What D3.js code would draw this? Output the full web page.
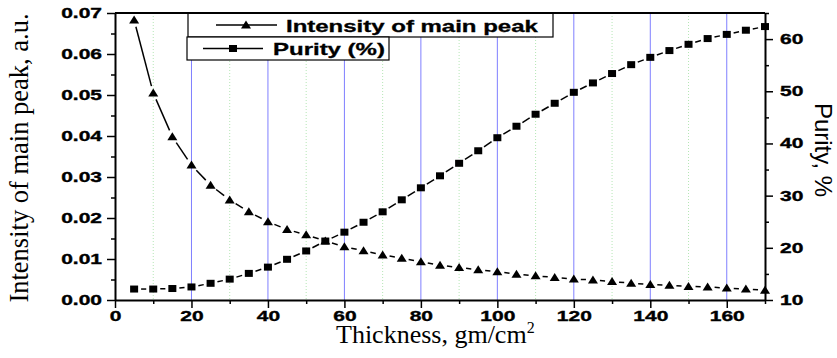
<!DOCTYPE html>
<html>
<head>
<meta charset="utf-8">
<script src="https://cdn.jsdelivr.net/npm/d3@7"></script>
<style>
  body { margin: 0; background: #fff; }
  .tick text { font-family: "Liberation Sans", Arial, sans-serif; font-weight: bold; font-size: 14px; fill: #000; stroke: #000; stroke-width: 0.35px; }
  .bold { font-family: "Liberation Sans", Arial, sans-serif; font-weight: bold; font-size: 16px; stroke: #000; stroke-width: 0.3px; }
</style>
</head>
<body>
<div id="chart"></div>
<script>
// data
const thickness = [5, 10, 15, 20, 25, 30, 35, 40, 45, 50, 55, 60, 65, 70, 75, 80, 85,
  90, 95, 100, 105, 110, 115, 120, 125, 130, 135, 140, 145, 150, 155, 160, 165, 170];
const intensity = [0.0683, 0.0505, 0.0398, 0.0329, 0.0280, 0.0244, 0.0215, 0.0191, 0.0172,
  0.0159, 0.0144, 0.0130, 0.0120, 0.0110, 0.0102, 0.0093, 0.0085, 0.0079, 0.0074, 0.0069,
  0.0063, 0.0059, 0.0055, 0.0051, 0.0049, 0.0045, 0.0041, 0.0038, 0.0036, 0.0033, 0.0032,
  0.0029, 0.0027, 0.0024];
const purity = [12.1, 12.1, 12.2, 12.5, 13.2, 14.0, 15.1, 16.3, 17.8, 19.4, 21.3, 23.0,
  24.9, 26.9, 29.2, 31.5, 33.8, 36.2, 38.6, 41.1, 43.3, 45.6, 47.7, 49.8, 51.6, 53.4,
  55.1, 56.5, 57.8, 59.0, 60.1, 60.9, 61.7, 62.4];

const xTicks = [0, 20, 40, 60, 80, 100, 120, 140, 160];
const xMinor = [10, 30, 50, 70, 90, 110, 130, 150, 170];
const yLeftTicks = [0, 0.01, 0.02, 0.03, 0.04, 0.05, 0.06, 0.07];
const yLeftMinor = [0.005, 0.015, 0.025, 0.035, 0.045, 0.055, 0.065];
const yRightTicks = [10, 20, 30, 40, 50, 60];
const yRightMinor = [15, 25, 35, 45, 55, 65];

const margin = {top: 13, right: 72, bottom: 58, left: 115};
const width = 837 - margin.left - margin.right;
const height = 358 - margin.top - margin.bottom;
const stretch = 1.5; // bold text in the picture is drawn wide

const svg = d3.select("#chart")
  .append("svg")
  .attr("width", 837)
  .attr("height", 358)
  .append("g")
  .attr("transform", `translate(${margin.left},${margin.top})`);

const x = d3.scaleLinear().domain([0, 170]).range([0, width]);
const yL = d3.scaleLinear().domain([0, 0.07]).range([height, 0]);
const yR = d3.scaleLinear().domain([10, 65]).range([height, 0]);

// grid
svg.selectAll(".gmin").data(xMinor.slice(0, -1)).enter().append("line")
  .attr("x1", d => x(d)).attr("x2", d => x(d))
  .attr("y1", 0).attr("y2", height)
  .attr("stroke", "#b5e6b5").attr("stroke-width", 1).attr("stroke-dasharray", "1,2");
svg.selectAll(".gmaj").data(xTicks.slice(1)).enter().append("line")
  .attr("x1", d => x(d)).attr("x2", d => x(d))
  .attr("y1", 0).attr("y2", height)
  .attr("stroke", "#7f7fff").attr("stroke-width", 1);

// lines with a small gap next to each symbol
function gapLines(vals, yScale, gap) {
  const pts = thickness.map((t, i) => [x(t), yScale(vals[i])]);
  const segs = [];
  for (let i = 0; i < pts.length - 1; i++) {
    const [x0, y0] = pts[i], [x1, y1] = pts[i + 1];
    const len = Math.hypot(x1 - x0, y1 - y0);
    if (len <= 2 * gap) continue;
    const ux = (x1 - x0) / len, uy = (y1 - y0) / len;
    segs.push([x0 + ux * gap, y0 + uy * gap, x1 - ux * gap, y1 - uy * gap]);
  }
  svg.append("g").selectAll("line").data(segs).enter().append("line")
    .attr("x1", d => d[0]).attr("y1", d => d[1])
    .attr("x2", d => d[2]).attr("y2", d => d[3])
    .attr("stroke", "#000").attr("stroke-width", 1.5);
}
gapLines(intensity, yL, 7);
gapLines(purity, yR, 7);

const triPath = "M0,-4.5L5,3.5L-5,3.5Z";

svg.append("g").selectAll("path").data(intensity).enter().append("path")
  .attr("d", triPath)
  .attr("transform", (d, i) => `translate(${x(thickness[i])},${yL(d)})`)
  .attr("fill", "#000");

svg.append("g").selectAll("rect").data(purity).enter().append("rect")
  .attr("x", (d, i) => x(thickness[i]) - 4)
  .attr("y", d => yR(d) - 3.5)
  .attr("width", 8).attr("height", 7)
  .attr("fill", "#000");

// legend
const lg = svg.append("g").attr("transform", `translate(${-margin.left},${-margin.top})`);
lg.append("rect").attr("x", 188).attr("y", 13).attr("width", 365).attr("height", 24)
  .attr("fill", "#fff").attr("stroke", "#000").attr("stroke-width", 1.2);
lg.append("rect").attr("x", 187).attr("y", 37).attr("width", 202).attr("height", 23)
  .attr("fill", "#fff").attr("stroke", "#000").attr("stroke-width", 1.2);
lg.append("line").attr("x1", 216).attr("x2", 277).attr("y1", 25).attr("y2", 25)
  .attr("stroke", "#000").attr("stroke-width", 1.5);
lg.append("path").attr("d", triPath).attr("transform", "translate(246,25)").attr("fill", "#000");
lg.append("line").attr("x1", 203).attr("x2", 263).attr("y1", 48.5).attr("y2", 48.5)
  .attr("stroke", "#000").attr("stroke-width", 1.5);
lg.append("rect").attr("x", 229).attr("y", 45).attr("width", 8).attr("height", 7).attr("fill", "#000");
lg.append("text").attr("class", "bold")
  .attr("transform", `translate(286,31.5) scale(${stretch},1)`)
  .text("Intensity of main peak");
lg.append("text").attr("class", "bold")
  .attr("transform", `translate(273,55) scale(${stretch},1)`)
  .text("Purity (%)");

// axes
svg.append("line").attr("x1", 0).attr("x2", width).attr("y1", 0).attr("y2", 0)
  .attr("stroke", "#000").attr("stroke-width", 2);

function styleAxis(g) {
  g.select(".domain").attr("stroke-width", 2);
  g.selectAll(".tick line").attr("stroke-width", 1.5);
}

const left = svg.append("g")
  .call(d3.axisLeft(yL).tickValues(yLeftTicks).tickFormat(d3.format(".2f"))
    .tickSize(8).tickSizeOuter(0));
styleAxis(left);
left.selectAll(".tick text").attr("x", -13 / stretch).attr("transform", `scale(${stretch},1)`);
svg.append("g").call(d3.axisLeft(yL).tickValues(yLeftMinor).tickFormat("").tickSize(4).tickSizeOuter(0))
  .call(g => { g.select(".domain").remove(); g.selectAll("line").attr("stroke-width", 1.5); });

const bottom = svg.append("g").attr("transform", `translate(0,${height})`)
  .call(d3.axisBottom(x).tickValues(xTicks).tickSize(8).tickPadding(3).tickSizeOuter(0));
styleAxis(bottom);
bottom.selectAll(".tick text").attr("transform", `scale(${stretch},1)`);
svg.append("g").attr("transform", `translate(0,${height})`)
  .call(d3.axisBottom(x).tickValues(xMinor).tickFormat("").tickSize(4).tickSizeOuter(0))
  .call(g => { g.select(".domain").remove(); g.selectAll("line").attr("stroke-width", 1.5); });

const right = svg.append("g").attr("transform", `translate(${width},0)`)
  .call(d3.axisRight(yR).tickValues(yRightTicks).tickSize(8).tickSizeOuter(0));
styleAxis(right);
right.selectAll(".tick text").attr("x", 15 / stretch).attr("transform", `scale(${stretch},1)`);
svg.append("g").attr("transform", `translate(${width},0)`)
  .call(d3.axisRight(yR).tickValues(yRightMinor).tickFormat("").tickSize(4).tickSizeOuter(0))
  .call(g => { g.select(".domain").remove(); g.selectAll("line").attr("stroke-width", 1.5); });

// axis titles
const root = d3.select("svg");
const xt = root.append("text")
  .attr("x", 336).attr("y", 343)
  .style("font-family", "'Liberation Serif', 'Times New Roman', serif")
  .style("font-size", "26px")
  .text("Thickness, gm/cm");
xt.append("tspan").attr("dy", -10).style("font-size", "16px").text("2");

root.append("text")
  .attr("transform", "translate(27.5,158) rotate(-90)")
  .attr("text-anchor", "middle")
  .style("font-family", "'Liberation Serif', 'Times New Roman', serif")
  .style("font-size", "26.5px")
  .text("Intensity of main peak, a.u.");

root.append("text")
  .attr("transform", "translate(815,150) rotate(90)")
  .attr("text-anchor", "middle")
  .style("font-family", "'Liberation Sans', Arial, sans-serif")
  .style("font-size", "24px")
  .text("Purity, %");
</script>
</body>
</html>
